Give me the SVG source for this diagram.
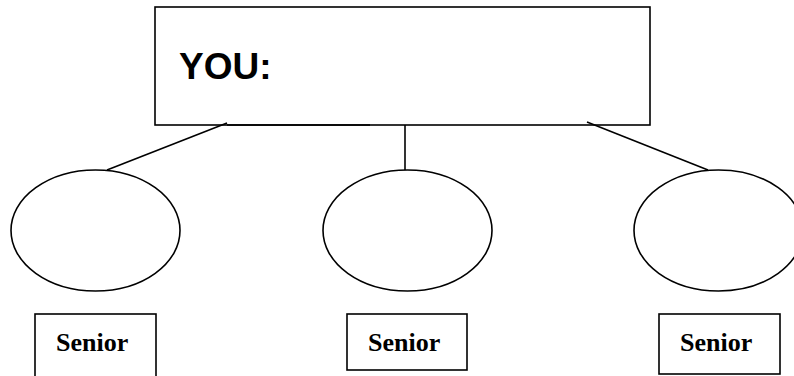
<svg xmlns="http://www.w3.org/2000/svg" width="794" height="376" viewBox="0 0 794 376">
  <style>
    .shape { fill: #ffffff; stroke: #000000; stroke-width: 1.6; }
    .link { stroke: #000000; stroke-width: 1.6; fill: none; }
    .title { font-family: "Liberation Sans", Arial, sans-serif; font-weight: bold; font-size: 37px; fill: #000000; }
    .label { font-family: "Liberation Serif", "Times New Roman", serif; font-weight: bold; font-size: 26px; fill: #000000; }
  </style>
  <rect width="794" height="376" fill="#ffffff"/>

  <g id="you">
    <rect class="shape" x="155" y="7" width="495" height="118"/>
    <text class="title" x="179" y="79">YOU:</text>
  </g>

  <g id="connectors">
    <line class="link" x1="227" y1="125" x2="370" y2="125"/>
    <line class="link" x1="227" y1="123" x2="107" y2="170"/>
    <line class="link" x1="405" y1="125" x2="405" y2="170"/>
    <line class="link" x1="587" y1="122" x2="708" y2="170"/>
  </g>

  <g id="circle-left">
    <ellipse class="shape" cx="95.5" cy="230.5" rx="84.5" ry="60.5"/>
  </g>
  <g id="circle-middle">
    <ellipse class="shape" cx="407.5" cy="230.5" rx="84.5" ry="60.5"/>
  </g>
  <g id="circle-right">
    <ellipse class="shape" cx="718.5" cy="230.5" rx="84.5" ry="60.5"/>
  </g>

  <g id="senior-left">
    <rect class="shape" x="35" y="314" width="121" height="64"/>
    <text class="label" x="56" y="351">Senior</text>
  </g>
  <g id="senior-middle">
    <rect class="shape" x="347" y="314" width="120" height="56"/>
    <text class="label" x="368" y="351">Senior</text>
  </g>
  <g id="senior-right">
    <rect class="shape" x="659" y="314" width="121" height="60"/>
    <text class="label" x="680" y="351">Senior</text>
  </g>
</svg>
